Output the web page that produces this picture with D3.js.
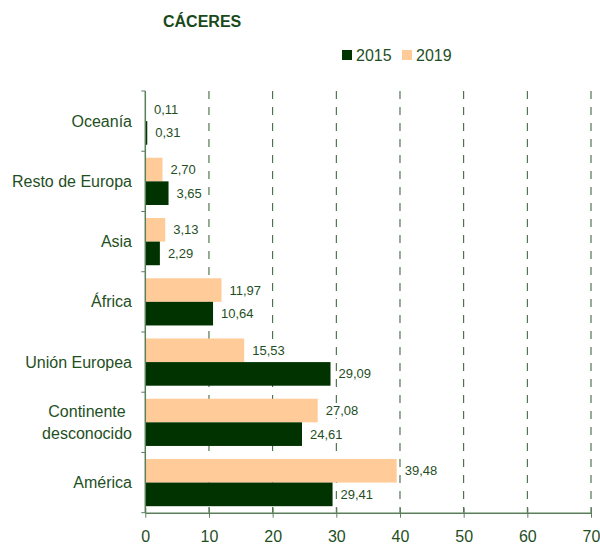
<!DOCTYPE html>
<html><head><meta charset="utf-8">
<script src="https://cdn.jsdelivr.net/npm/d3@7"></script>
<style>body{margin:0;background:#fff}svg{display:block;font-family:"Liberation Sans",Arial,sans-serif}</style>
</head><body><svg id="c" width="600" height="546"></svg>
<script>
const categories = ["Oceanía","Resto de Europa","Asia","África","Unión Europea","Continente desconocido","América"];
const labelLines = [["Oceanía"],["Resto de Europa"],["Asia"],["África"],["Unión Europea"],["Continente","desconocido"],["América"]];
const values2015 = [0.31,3.65,2.29,10.64,29.09,24.61,29.41];
const values2019 = [0.11,2.70,3.13,11.97,15.53,27.08,39.48];
const xTicks = [0,10,20,30,40,50,60,70];
const seriesNames = ["2015","2019"];

(function(){
const colDark = "#003300", colPeach = "#FFCC99", txt = "#1f4f1f", gridCol = "#2f5a2f", axisCol = "#5b7f5b";
const svg = d3.select("#c");
const pLeft = 145.3, pRight = 591, pTop = 91, pBottom = 512.7;
const x = d3.scaleLinear().domain([0,70]).range([pLeft,pRight]);
const y = d3.scaleBand().domain(categories).range([pTop,pBottom]).padding(0);
const bw = y.bandwidth(), pad = bw*0.108, barH = (bw - 2*pad)/2;
const fmt = v => d3.format(".2f")(v).replace(".",",");

// gridlines
svg.append("g").selectAll("line").data(xTicks.filter(d=>d>0)).join("line")
  .attr("x1",d=>x(d)).attr("x2",d=>x(d)).attr("y1",pTop).attr("y2",pBottom)
  .attr("stroke",gridCol).attr("stroke-width",1).attr("stroke-dasharray","8,8");

// bars
const g = svg.append("g");
categories.forEach((c,i)=>{
  const y0 = y(c)+pad;
  g.append("rect").attr("x",x(0)).attr("y",y0).attr("width",x(values2019[i])-x(0)).attr("height",barH).attr("fill",colPeach);
  g.append("rect").attr("x",x(0)).attr("y",y0+barH).attr("width",x(values2015[i])-x(0)).attr("height",barH).attr("fill",colDark);
});
// value labels
categories.forEach((c,i)=>{
  const y0 = y(c)+pad;
  [[values2019[i],y0+barH/2],[values2015[i],y0+barH*1.5]].forEach(([v,cy])=>{
    const t = svg.append("text").attr("x",x(v)+8).attr("y",cy).attr("dy","0.35em")
      .attr("font-size",13).attr("fill",txt).text(fmt(v));
    const bb = t.node().getBBox();
    svg.insert("rect", ()=>t.node()).attr("x",bb.x+1).attr("y",bb.y).attr("width",bb.width-1).attr("height",bb.height).attr("fill","#fff");
  });
});

// x axis
const xa = svg.append("g").attr("transform",`translate(0,${pBottom})`)
  .call(d3.axisBottom(x).tickValues(xTicks).tickSize(5).tickSizeOuter(0).tickPadding(13));
xa.select(".domain").attr("stroke",axisCol).attr("stroke-width",1.5);
xa.selectAll(".tick line").attr("stroke",axisCol).attr("y1",-5).attr("y2",5);
xa.selectAll(".tick text").attr("fill",txt).attr("font-size",16).attr("font-family","Liberation Sans, Arial, sans-serif");

// y axis
svg.append("line").attr("x1",pLeft).attr("x2",pLeft).attr("y1",pTop).attr("y2",pBottom).attr("stroke",axisCol).attr("stroke-width",1.5);
svg.append("g").selectAll("line").data(d3.range(categories.length+1)).join("line")
  .attr("x1",pLeft-4).attr("x2",pLeft).attr("y1",d=>pTop+d*bw).attr("y2",d=>pTop+d*bw).attr("stroke",axisCol);

// category labels
categories.forEach((c,i)=>{
  const lines = labelLines[i];
  const cy = y(c)+bw/2;
  const t = svg.append("text").attr("text-anchor", lines.length>1?"middle":"end")
    .attr("font-size",16).attr("fill",txt);
  lines.forEach((l,j)=>{
    t.append("tspan").attr("x", lines.length>1?87:132).attr("y", cy + (j-(lines.length-1)/2)*22).attr("dy","0.35em").text(l);
  });
});

// title
svg.append("text").attr("x",163).attr("y",27).attr("font-size",16).attr("font-weight","bold").attr("fill","#1a4a1a").text("CÁCERES");

// legend
const leg = svg.append("g");
[[colDark,seriesNames[0],342],[colPeach,seriesNames[1],402]].forEach(([col,name,lx])=>{
  leg.append("rect").attr("x",lx).attr("y",50).attr("width",10).attr("height",10).attr("fill",col);
  leg.append("text").attr("x",lx+14).attr("y",55).attr("dy","0.35em").attr("font-size",16).attr("fill",txt).text(name);
});
})();
</script></body></html>
